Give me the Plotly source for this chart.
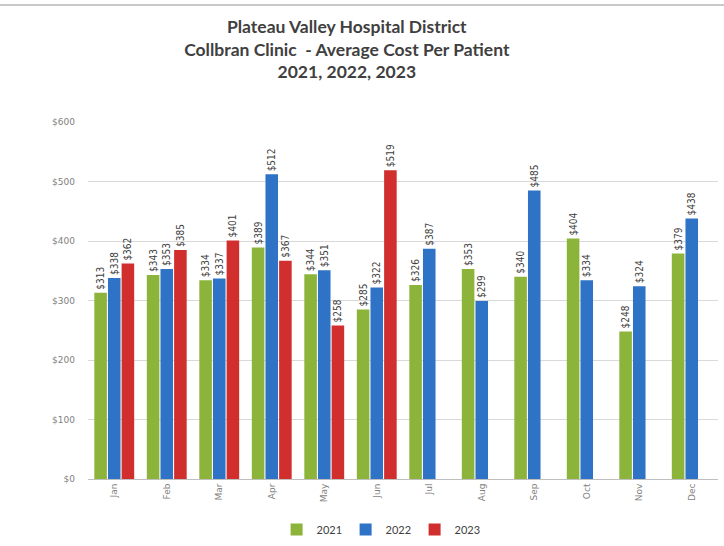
import plotly.graph_objects as go

months = ["Jan", "Feb", "Mar", "Apr", "May", "Jun", "Jul", "Aug", "Sep", "Oct", "Nov", "Dec"]
cost_2021 = [313, 343, 334, 389, 344, 285, 326, 353, 340, 404, 248, 379]
cost_2022 = [338, 353, 337, 512, 351, 322, 387, 299, 485, 334, 324, 438]
cost_2023 = [362, 385, 401, 367, 258, 519, None, None, None, None, None, None]
y_ticks = [0, 100, 200, 300, 400, 500, 600]

series = [("2021", cost_2021, "#8DB43A"), ("2022", cost_2022, "#2F73C6"), ("2023", cost_2023, "#D12E2E")]

fig = go.Figure()
for name, vals, col in series:
    fig.add_trace(go.Bar(
        x=months, y=vals, name=name,
        marker=dict(color=col, line=dict(width=0)),
        text=[f"${v}" if v is not None else "" for v in vals],
        textposition="outside", textangle=-90, cliponaxis=False,
        textfont=dict(size=10, color="#404040", family="DejaVu Sans Condensed, DejaVu Sans"),
    ))

fig.update_layout(
    width=724, height=546,
    paper_bgcolor="white", plot_bgcolor="white",
    margin=dict(l=88, r=6, t=122, b=67),
    barmode="group", bargap=0.22, bargroupgap=0.08,
    title=dict(
        text="<b>Plateau Valley Hospital District<br>Collbran Clinic  - Average Cost Per Patient<br>2021, 2022, 2023</b>",
        x=0.479, xanchor="center", yref="container", y=0.94, yanchor="top",
        font=dict(family="Lato, Open Sans", size=17.5, color="#404040"),
    ),
    legend=dict(orientation="h", xref="container", x=0.525, xanchor="center",
                yref="container", y=0.03, yanchor="middle",
                font=dict(family="Lato", size=11, color="#404040"),
                itemwidth=30, entrywidth=24, entrywidthmode="pixels", traceorder="normal"),
    showlegend=True,
    uniformtext=dict(minsize=9, mode="show"),
)
fig.update_yaxes(range=[0, 600], tickvals=y_ticks, ticktext=[f"${t}" for t in y_ticks],
                 showgrid=True, gridcolor="#D9D9D9", gridwidth=1, zeroline=False,
                 showline=False, ticks="", ticklabelstandoff=12,
                 tickfont=dict(size=9, color="#7F7F7F", family="DejaVu Sans"))
fig.update_xaxes(tickangle=-90, showline=True, linecolor="#BFBFBF", ticks="",
                 tickfont=dict(size=9, color="#7F7F7F", family="DejaVu Sans"))

fig.add_shape(type="line", xref="paper", yref="paper", x0=-0.2, x1=1.05, y0=1.328, y1=1.328,
              line=dict(color="#C8C8C8", width=2))

fig.write_html("out.html", config={"displayModeBar": False},
               post_script="document.body.style.margin='0';")
